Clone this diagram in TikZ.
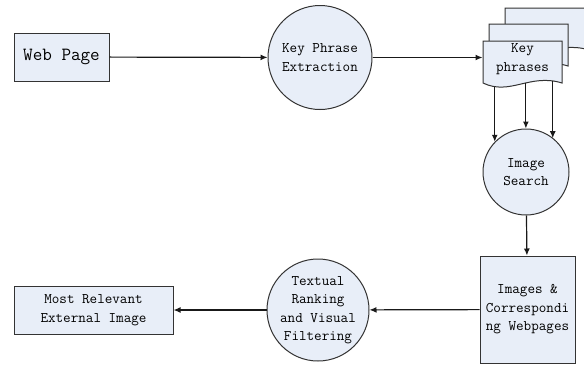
\documentclass[tikz,border=0pt]{standalone}
\usetikzlibrary{arrows.meta}
\definecolor{boxfill}{HTML}{E8EEF8}
\newcommand\txt{\ttfamily\fontsize{14.7}{18.5}\selectfont}
\tikzset{
  proc/.style={draw=black!80, fill=boxfill, circle, inner sep=0pt, align=center, font=\txt},
  store/.style={draw=black!80, fill=boxfill, rectangle, inner sep=0pt, align=center, font=\txt},
  page/.style={draw=black!80, fill=boxfill},
  flow/.style={-{Latex[length=7pt,width=6pt]}, line width=1.2pt, black!90}
}

\begin{document}
\begin{tikzpicture}[x=1pt, y=-1pt, line width=1pt]
  \useasboundingbox (0,0) rectangle (584,365);
  \node[store, minimum width=95pt, minimum height=48pt, font=\ttfamily\fontsize{18.6}{22}\selectfont] (web) at (61.5,57) {Web Page};
  \node[proc, minimum size=104pt] (extract) at (320,57.5) {Key Phrase\\Extraction};
  % stack of key phrase pages, front one last
  \foreach \dx/\dy/\w in {22/-33/84, 6/-17/79, 0/0/79}
    \path[page] (483+\dx,41+\dy) -- ++(\w,0) -- ++(0,42)
      .. controls +(-32,-10) and +(27,13) .. ++(-\w,0)
      coordinate[pos=0.1] (kp3) coordinate[pos=0.43] (kp2) coordinate[pos=0.85] (kp1)
      -- cycle;
  \node[font=\txt, align=center, minimum width=79pt, inner sep=0pt] (keys) at (522.5,59) {Key\\phrases};
  \node[proc, minimum size=86pt] (search) at (526,172) {Image\\Search};
  \node[store, minimum width=95pt, minimum height=107pt] (images) at (527.5,309.5) {Images \&\\Correspondi\\ng Webpages};
  \node[proc, minimum size=102pt] (rank) at (318,310) {Textual\\Ranking\\and Visual\\Filtering};
  \node[store, minimum width=159pt, minimum height=48pt] (best) at (93.5,310) {Most Relevant\\External Image};
  % Draw the flow
  \draw[flow] (web) -- (extract);
  \draw[flow] (extract.east) -- (extract.east -| keys.west);
  \draw[flow] (kp1) -- (kp1 |- search.136);
  \draw[flow] (kp2) -- (kp2 |- search.north);
  \draw[flow] (kp3) -- (kp3 |- search.51);
  \draw[flow] (search) -- (images);
  \draw[flow] (images) -- (rank);
  \draw[flow] (rank) -- (best);
\end{tikzpicture}
\end{document}
